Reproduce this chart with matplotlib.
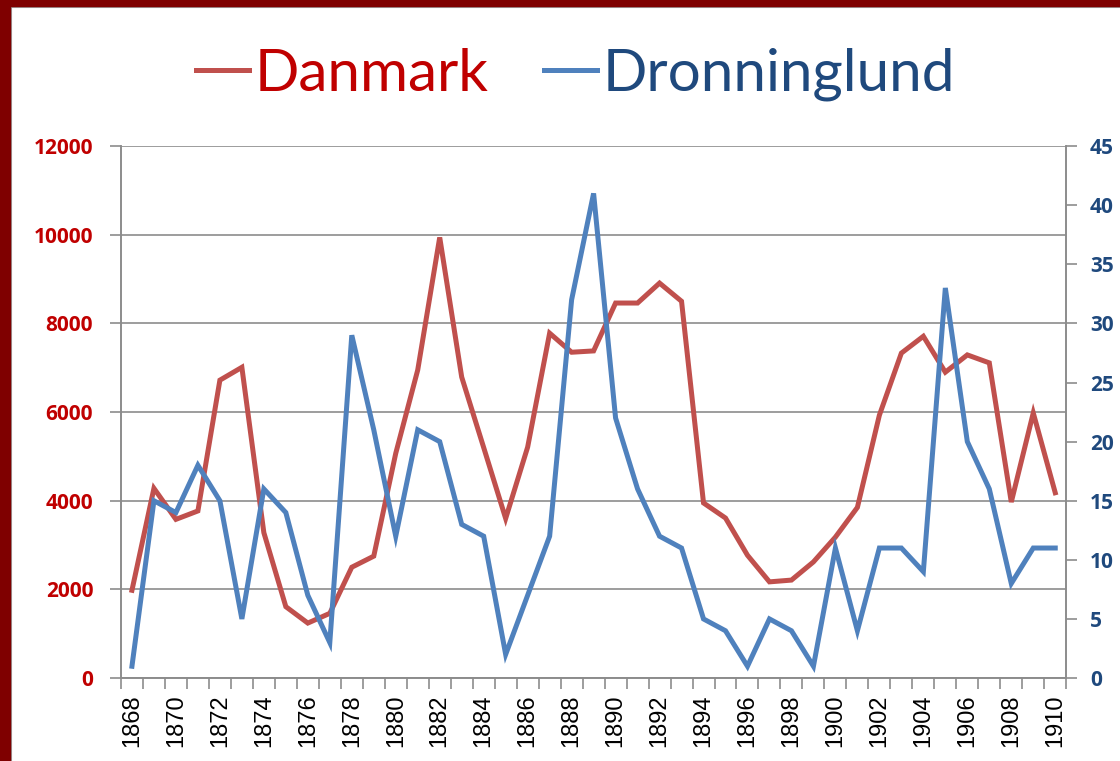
import numpy as np
import matplotlib.pyplot as plt
from matplotlib.patches import Rectangle
from matplotlib.lines import Line2D

years = list(range(1868, 1911))
danmark = [1980, 4280, 3580, 3770, 6720, 7010, 3280, 1610, 1240, 1460,
           2500, 2750, 5070, 6950, 9940, 6790, 5200, 3600, 5210, 7780,
           7350, 7380, 8460, 8460, 8910, 8500, 3950, 3610, 2770, 2170,
           2210, 2620, 3180, 3850, 5930, 7330, 7710, 6900, 7290, 7110,
           3970, 5980, 4180]
dronninglund = [1, 15, 14, 18, 15, 5, 16, 14, 7, 3,
                29, 21, 12, 21, 20, 13, 12, 2, 7, 12,
                32, 41, 22, 16, 12, 11, 5, 4, 1, 5,
                4, 1, 11, 4, 11, 11, 9, 33, 20, 16,
                8, 11, 11]
left_ticks = list(range(0, 12001, 2000))
right_ticks = list(range(0, 46, 5))

red_line = '#C0504D'
blue_line = '#4F81BD'
red_text = '#C00000'
blue_text = '#1F497D'
grid_col = '#8C8C8C'

plt.rcParams['font.family'] = ['Lato', 'DejaVu Sans']

fig = plt.figure(figsize=(11.2, 7.61), dpi=100)
ax = fig.add_axes([0.108, 0.109, 0.844, 0.699])
ax2 = ax.twinx()

x = np.arange(len(years))
l1, = ax.plot(x, danmark, color=red_line, lw=3.6, solid_joinstyle='miter', zorder=3)
l2, = ax2.plot(x, dronninglund, color=blue_line, lw=3.6, solid_joinstyle='miter', zorder=3)

ax.set_xlim(-0.5, len(years) - 0.5)
ax.set_ylim(0, 12000)
ax2.set_ylim(0, 45)
ax.set_yticks(left_ticks, [str(v) for v in left_ticks],
              fontweight='bold', family=['Open Sans'], fontsize=15)
ax2.set_yticks(right_ticks, [str(v) for v in right_ticks],
               fontweight='bold', family=['Open Sans'], fontsize=15)
ax.yaxis.grid(True, color=grid_col, lw=1.2)
ax.set_axisbelow(True)

ax.set_xticks(x[::2], [str(y) for y in years[::2]], rotation=90,
              family=['Liberation Sans'], fontsize=17)
ax.set_xticks(np.arange(-0.5, len(years), 1), minor=True)
ax.tick_params(axis='x', which='major', length=0, pad=12)
ax.tick_params(axis='x', which='minor', length=8, color=grid_col, width=1.2)

ax.tick_params(axis='y', length=8, color=grid_col, width=1.2,
               labelcolor=red_text, pad=12)
ax2.tick_params(axis='y', length=8, color=grid_col, width=1.2,
                labelcolor=blue_text, pad=9)

for a in (ax, ax2):
    a.spines['top'].set_visible(False)
    for s in ('left', 'right', 'bottom'):
        a.spines[s].set_color(grid_col)
        a.spines[s].set_linewidth(1.2)

leg = fig.legend([l1, l2], ['Danmark', 'Dronninglund'], loc='center',
                 bbox_to_anchor=(0.514, 0.902), ncol=2, frameon=False,
                 fontsize=42, handlelength=0.9, handletextpad=0.1,
                 columnspacing=0.95)
for txt, c in zip(leg.get_texts(), [red_text, blue_text]):
    txt.set_color(c)

# dark red frame on the left and top edges
fig.patches.append(Rectangle((0, 0), 10 / 1120, 1, transform=fig.transFigure,
                             color='#7F0000', zorder=10))
fig.patches.append(Rectangle((0, 1 - 6 / 761), 1, 6 / 761, transform=fig.transFigure,
                             color='#7F0000', zorder=10))
fig.lines.append(Line2D([11 / 1120, 11 / 1120], [0, 1 - 7 / 761], transform=fig.transFigure,
                        color='#A0A0A0', lw=1.5))
fig.lines.append(Line2D([11 / 1120, 1], [1 - 7 / 761, 1 - 7 / 761], transform=fig.transFigure,
                        color='#A0A0A0', lw=1.5))

fig.savefig('out.png', dpi=100)
